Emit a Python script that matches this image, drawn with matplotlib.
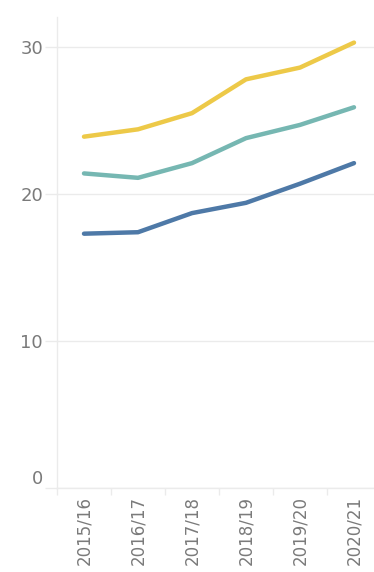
import matplotlib
matplotlib.use("Agg")
import matplotlib.pyplot as plt
import numpy as np

categories = ["2015/16", "2016/17", "2017/18", "2018/19", "2019/20", "2020/21"]
series_yellow = [23.9, 24.4, 25.5, 27.8, 28.6, 30.3]
series_teal = [21.4, 21.1, 22.1, 23.8, 24.7, 25.9]
series_blue = [17.3, 17.4, 18.7, 19.4, 20.7, 22.1]
y_ticks = [0, 10, 20, 30]

W, H = 374, 572
fig = plt.figure(figsize=(W / 100, H / 100), dpi=100)
left, right, top, bottom = 57, 381, 17, 488
ax = fig.add_axes([left / W, (H - bottom) / H, (right - left) / W, (bottom - top) / H])

x = np.arange(len(categories))
grid_c = "#ebebeb"
text_c = "#7a7a7a"
for vals, col in [(series_yellow, "#EDC948"), (series_teal, "#76B7B2"), (series_blue, "#4E79A7")]:
    ax.plot(x, vals, color=col, lw=3.2, solid_capstyle="round", solid_joinstyle="round", zorder=3)

ax.set_xlim(-0.5, len(categories) - 0.5)
ax.set_ylim(0, (bottom - top) / 14.7)

for s in ["top", "right"]:
    ax.spines[s].set_visible(False)
ax.spines["left"].set_color(grid_c)
ax.spines["bottom"].set_color(grid_c)
ax.spines["left"].set_linewidth(1)
ax.spines["bottom"].set_linewidth(1)

ax.set_yticks(y_ticks)
ax.set_yticklabels([str(v) for v in y_ticks])
ax.tick_params(axis="y", length=9, width=1, color=grid_c, labelcolor=text_c, labelsize=13, pad=1)
for lab in ax.get_yticklabels():
    if lab.get_text() == "0":
        lab.set_verticalalignment("bottom")
ax.yaxis.grid(True, color=grid_c, lw=1)
ax.set_axisbelow(True)

ax.set_xticks(x)
ax.set_xticklabels(categories, rotation=90)
ax.set_xticks(np.arange(-0.5, len(categories)), minor=True)
ax.tick_params(axis="x", which="major", length=0, labelcolor=text_c, labelsize=12, pad=6)
ax.tick_params(axis="x", which="minor", length=5, width=1, color=grid_c)

fig.savefig("out.png", dpi=100)
